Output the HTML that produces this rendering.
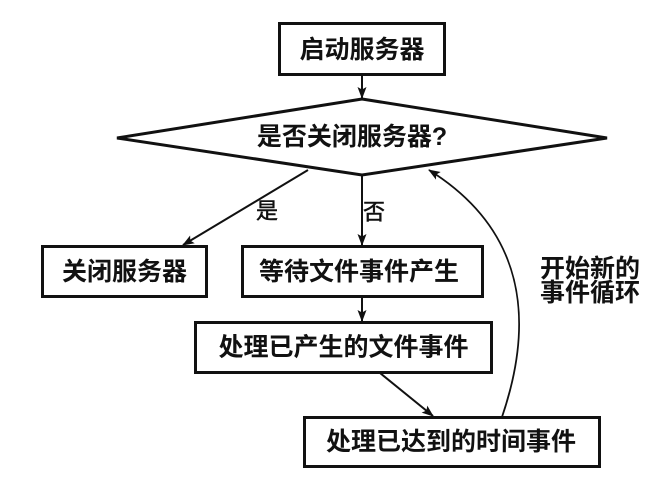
<!DOCTYPE html>
<html>
<head>
<meta charset="utf-8">
<style>
  html, body { margin: 0; padding: 0; background: #fff; }
  body { width: 664px; height: 482px; overflow: hidden; }
  svg { display: block; }
  .t { font-family: "Liberation Sans", "Noto Sans CJK SC", "WenQuanYi Zen Hei", sans-serif; font-weight: bold; font-size: 25px; fill: #111; }
  .l { font-family: "Liberation Sans", "Noto Sans CJK SC", "WenQuanYi Zen Hei", sans-serif; font-weight: normal; font-size: 22px; fill: #111; stroke: #111; stroke-width: 0.5; }
</style>
</head>
<body>
<svg width="664" height="482" viewBox="0 0 664 482" xmlns="http://www.w3.org/2000/svg">
  <defs>
    <marker id="ah" markerWidth="12" markerHeight="10" refX="11" refY="5" orient="auto" markerUnits="userSpaceOnUse">
      <path d="M0,0.5 L12,5 L0,9.5 L2.5,5 Z" fill="#111"/>
    </marker>
  </defs>

  <!-- Boxes -->
  <g fill="none" stroke="#111" stroke-width="3">
    <rect x="279.5" y="23.5" width="165" height="51"/>
    <polygon points="362,99 607,138 362,175 117,138" stroke-linejoin="miter"/>
    <rect x="42.5" y="246.5" width="164" height="50"/>
    <rect x="242.5" y="246.5" width="240" height="50"/>
    <rect x="195.5" y="322.5" width="296" height="50"/>
    <rect x="304.5" y="417.5" width="295" height="49"/>
  </g>

  <!-- Connectors -->
  <g fill="none" stroke="#111" stroke-width="2">
    <line x1="362" y1="75" x2="362" y2="98" marker-end="url(#ah)"/>
    <line x1="308" y1="170" x2="183" y2="245" marker-end="url(#ah)"/>
    <line x1="362" y1="175" x2="362" y2="245" marker-end="url(#ah)"/>
    <line x1="362" y1="297" x2="362" y2="321" marker-end="url(#ah)"/>
    <line x1="380" y1="373" x2="433" y2="416" marker-end="url(#ah)"/>
    <path d="M502,417 C535,320 525,230 429,170" marker-end="url(#ah)" stroke-width="1.8"/>
  </g>

  <!-- Labels -->
  <text class="t" x="362" y="50" text-anchor="middle" dominant-baseline="central">启动服务器</text>
  <text class="t" x="352" y="137" text-anchor="middle" dominant-baseline="central">是否关闭服务器?</text>
  <text class="t" x="124.5" y="272" text-anchor="middle" dominant-baseline="central">关闭服务器</text>
  <text class="t" x="359" y="272" text-anchor="middle" dominant-baseline="central">等待文件事件产生</text>
  <text class="t" x="343.5" y="347.5" text-anchor="middle" dominant-baseline="central">处理已产生的文件事件</text>
  <text class="t" x="451" y="442" text-anchor="middle" dominant-baseline="central">处理已达到的时间事件</text>

  <text class="l" x="267" y="211" text-anchor="middle" dominant-baseline="central">是</text>
  <text class="l" x="374" y="212" text-anchor="middle" dominant-baseline="central">否</text>

  <text class="t" x="590" y="269" text-anchor="middle" dominant-baseline="central">开始新的</text>
  <text class="t" x="590" y="293" text-anchor="middle" dominant-baseline="central">事件循环</text>
</svg>
</body>
</html>
